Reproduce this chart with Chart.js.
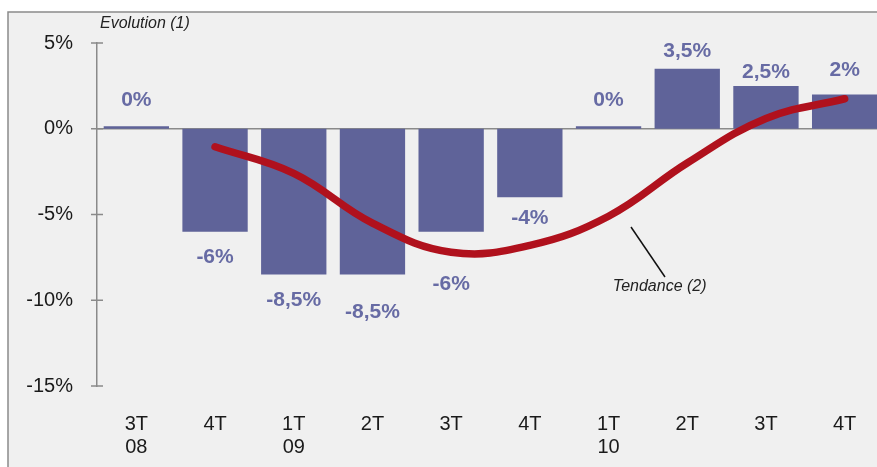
<!DOCTYPE html>
<html>
<head>
<meta charset="utf-8">
<script src="https://cdn.jsdelivr.net/npm/chart.js@4/dist/chart.umd.min.js"></script>
<style>
  html, body { margin: 0; padding: 0; background: #fff; overflow: hidden; }
  #wrap { position: absolute; left: 0; top: 0; width: 885px; height: 467px; }
</style>
</head>
<body>
<div id="wrap"><canvas id="chart"></canvas></div>
<script>
// données
const quarters = [["3T", "08"], ["4T"], ["1T", "09"], ["2T"], ["3T"], ["4T"], ["1T", "10"], ["2T"], ["3T"], ["4T"]];
const evolution = [0.15, -6, -8.5, -8.5, -6, -4, 0.15, 3.5, 2.5, 2];
const evolutionLabels = ["0%", "-6%", "-8,5%", "-8,5%", "-6%", "-4%", "0%", "3,5%", "2,5%", "2%"];
const tendance = [null, -1.05, -2.6, -5.5, -7.2, -6.8, -5.1, -2.0, 0.6, 1.75];
const yTicks = [5, 0, -5, -10, -15];

const BAR = "#5f6399";
const LABEL = "#676ba4";
const RED = "#b0111d";

// décalage vertical (px) des étiquettes par rapport au bout des barres
const labelOffsets = [-26, 26, 26, 38, 53, 21, -26, -18, -14, -24];

const decorPlugin = {
    id: "decor",
    beforeDraw(chart) {
        const ctx = chart.ctx;
        ctx.save();
        ctx.fillStyle = "#f0f0f0";
        ctx.fillRect(8, 12, chart.width, chart.height);
        ctx.strokeStyle = "#8a8a8a";
        ctx.lineWidth = 1.5;
        ctx.beginPath();
        ctx.moveTo(8, chart.height);
        ctx.lineTo(8, 12);
        ctx.lineTo(chart.width, 12);
        ctx.stroke();
        ctx.restore();
    },
    beforeDatasetsDraw(chart) {
        const ctx = chart.ctx;
        const y = chart.scales.y;
        const area = chart.chartArea;
        ctx.save();
        ctx.strokeStyle = "#8a8a8a";
        ctx.lineWidth = 1.5;
        // ligne du zéro
        const y0 = y.getPixelForValue(0);
        ctx.beginPath();
        ctx.moveTo(area.left, y0);
        ctx.lineTo(area.right, y0);
        ctx.stroke();
        // petites graduations qui traversent l'axe
        yTicks.forEach(v => {
            const py = y.getPixelForValue(v);
            ctx.beginPath();
            ctx.moveTo(area.left - 6, py);
            ctx.lineTo(area.left + 6, py);
            ctx.stroke();
        });
        ctx.restore();
    },
    afterDraw(chart) {
        const ctx = chart.ctx;
        const x = chart.scales.x;
        const y = chart.scales.y;
        const meta = chart.getDatasetMeta(0);
        ctx.save();
        // étiquettes des barres
        ctx.fillStyle = LABEL;
        ctx.font = "bold 21px 'Liberation Sans', Arial, sans-serif";
        ctx.textAlign = "center";
        ctx.textBaseline = "middle";
        meta.data.forEach((bar, i) => {
            const end = evolution[i] >= 0 ? Math.min(bar.y, bar.base) : Math.max(bar.y, bar.base);
            ctx.fillText(evolutionLabels[i], bar.x, end + labelOffsets[i]);
        });
        // titres en italique
        ctx.fillStyle = "#222";
        ctx.font = "italic 16px 'Liberation Sans', Arial, sans-serif";
        ctx.textAlign = "left";
        ctx.fillText("Evolution (1)", 100, 24);
        const tx = x.getPixelForValue(6.65);
        const ty = y.getPixelForValue(-9.2);
        ctx.textAlign = "center";
        ctx.fillText("Tendance (2)", tx, ty);
        ctx.strokeStyle = "#111";
        ctx.lineWidth = 1.5;
        ctx.beginPath();
        ctx.moveTo(631, 227);
        ctx.lineTo(665, 277);
        ctx.stroke();
        ctx.restore();
    }
};

new Chart(document.getElementById("chart"), {
    data: {
        labels: quarters,
        datasets: [{
            type: "bar",
            data: evolution,
            backgroundColor: BAR,
            barPercentage: 0.83,
            categoryPercentage: 1,
            order: 2
        }, {
            type: "line",
            data: tendance,
            borderColor: RED,
            borderWidth: 7.5,
            borderCapStyle: "round",
            borderJoinStyle: "round",
            pointRadius: 0,
            tension: 0.4,
            spanGaps: false,
            order: 1
        }]
    },
    options: {
        responsive: true,
        maintainAspectRatio: false,
        animation: false,
        devicePixelRatio: 1,
        layout: { padding: { top: 43, right: 1, left: 0, bottom: 0 } },
        plugins: {
            legend: { display: false },
            tooltip: { enabled: false }
        },
        scales: {
            x: {
                grid: { display: false, drawTicks: false },
                border: { display: false },
                ticks: {
                    color: "#1a1a1a",
                    font: { family: "'Liberation Sans', Arial, sans-serif", size: 20, lineHeight: 1.15 },
                    padding: 27,
                    maxRotation: 0,
                    autoSkip: false
                },
                afterFit(scale) { scale.height = 81; }
            },
            y: {
                min: -15,
                max: 5,
                grid: { display: false, drawTicks: false },
                border: { display: true, color: "#8a8a8a", width: 1.5 },
                ticks: {
                    stepSize: 5,
                    color: "#1a1a1a",
                    font: { family: "'Liberation Sans', Arial, sans-serif", size: 20 },
                    padding: 24,
                    callback: v => v + "%"
                },
                afterFit(scale) { scale.width = 97; }
            }
        }
    },
    plugins: [decorPlugin]
});
</script>
</body>
</html>
